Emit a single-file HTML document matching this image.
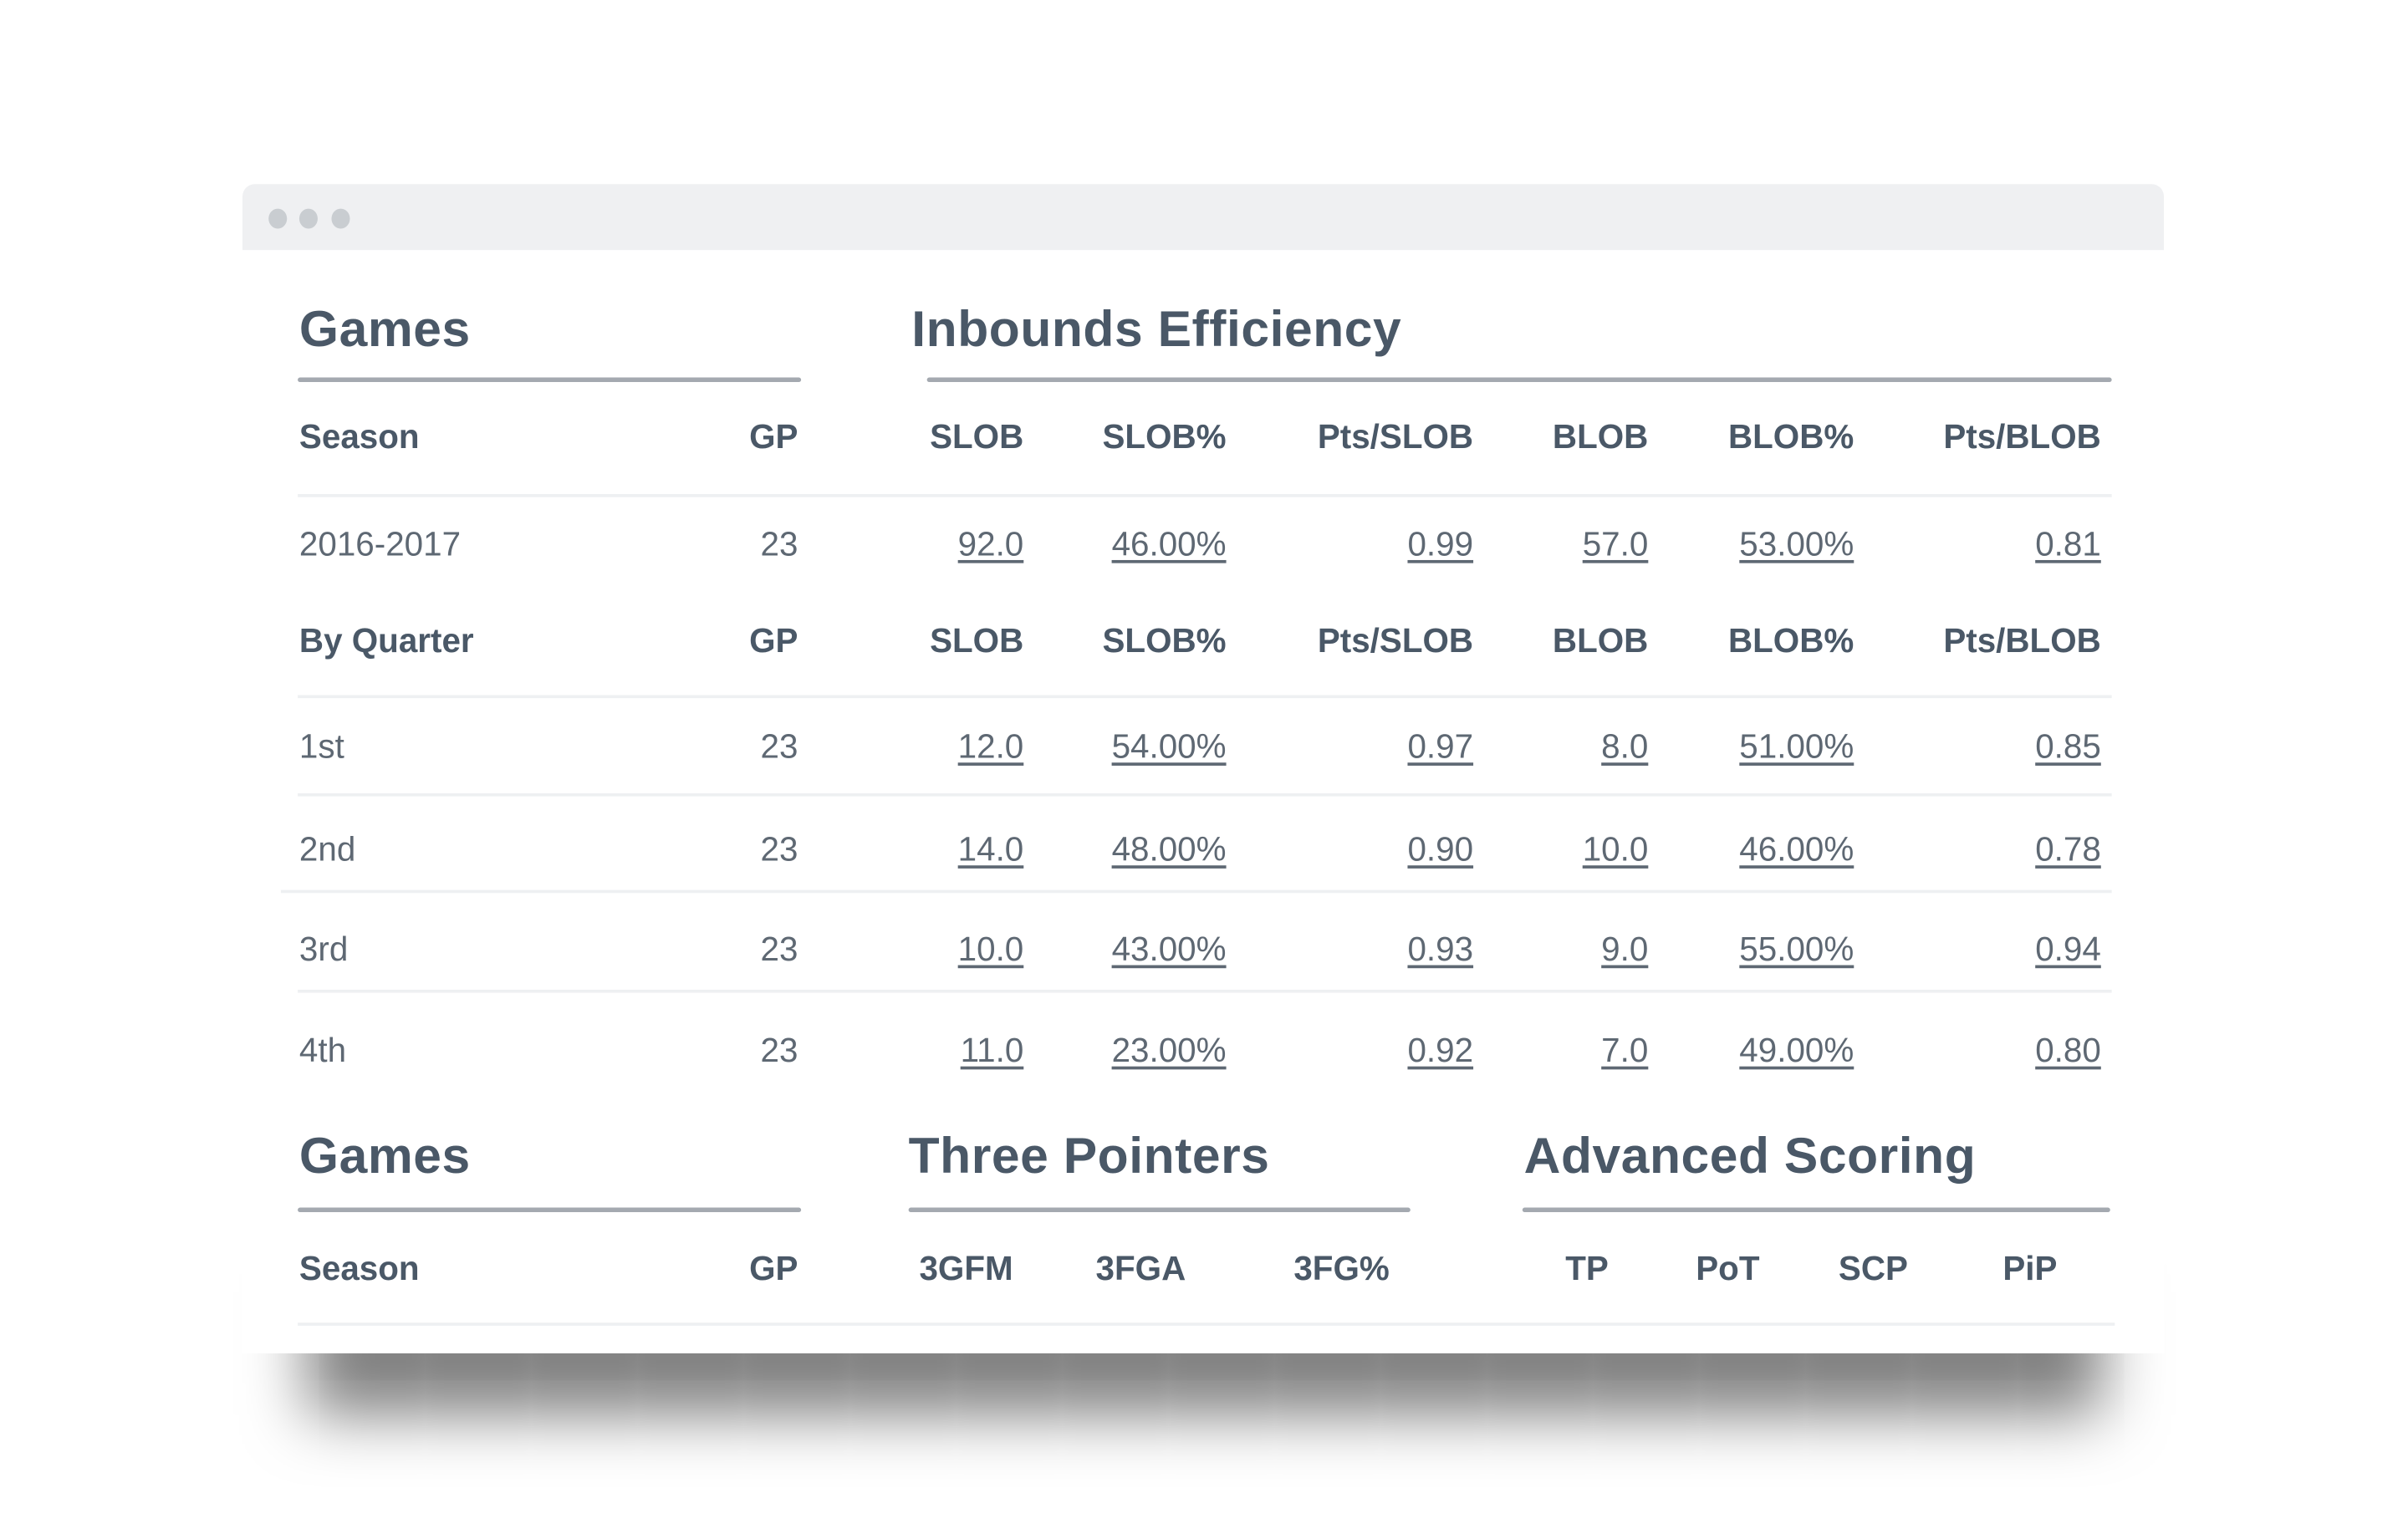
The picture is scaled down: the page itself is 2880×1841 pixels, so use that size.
<!DOCTYPE html>
<html><head><meta charset="utf-8"><style>
html,body{margin:0;padding:0;background:#fff;width:2880px;height:1840px;overflow:hidden}
#s{position:absolute;left:0;top:0;width:1569px;height:1003px;transform:scale(1.8355);transform-origin:0 0;font-family:"Liberation Sans",Arial,sans-serif}
.win{position:absolute;left:158px;top:120px;width:1252px;height:762px;background:#fff;border-radius:8px 8px 0 0}
.sh{position:absolute;left:200px;top:800px;width:1170px;height:80px;box-shadow:0 42px 40px rgba(0,0,0,.5);background:#fff}
.bar{position:absolute;left:158px;top:120px;width:1252px;height:43px;background:#eff0f2;border-radius:8px 8px 0 0}
.dot{position:absolute;top:136px;width:12px;height:13px;border-radius:50%;background:#c9cdd1}
.t{position:absolute;white-space:nowrap;line-height:1;transform:translateY(-50%)}
.h{font-weight:bold;font-size:33px;color:#4a5867;letter-spacing:0.3px}
.c{font-weight:bold;font-size:22px;color:#4a5867}
.d{font-size:22px;color:#5e6873}
.r{text-align:right}
.u{text-decoration:underline;text-underline-offset:3px}
.L{position:absolute;height:2px;background:#eef0f2}
.H{position:absolute;height:3px;background:#a4a9b0;border-radius:2px}
</style></head><body><div id="s">
<div class="sh"></div>
<div class="win"></div>
<div class="bar"></div>
<div class="dot" style="left:175px"></div><div class="dot" style="left:195px"></div><div class="dot" style="left:216px"></div>

<div class="t h" style="left:195px;top:214px">Games</div>
<div class="t h" style="left:594px;top:214px">Inbounds Efficiency</div>
<div class="H" style="left:194px;top:246px;width:328px"></div>
<div class="H" style="left:604px;top:246px;width:772px"></div>

<div id="rows"></div>

<div class="L" style="left:194px;top:322px;width:1182px"></div>
<div class="L" style="left:194px;top:453px;width:1182px"></div>
<div class="L" style="left:194px;top:517px;width:1182px"></div>
<div class="L" style="left:183px;top:580px;width:1193px"></div>
<div class="L" style="left:194px;top:645px;width:1182px"></div>

<div class="t h" style="left:195px;top:753px">Games</div>
<div class="t h" style="left:592px;top:753px">Three Pointers</div>
<div class="t h" style="left:993px;top:753px">Advanced Scoring</div>
<div class="H" style="left:194px;top:787px;width:328px"></div>
<div class="H" style="left:592px;top:787px;width:327px"></div>
<div class="H" style="left:992px;top:787px;width:383px"></div>
<div class="t c" style="left:195px;top:827px">Season</div>
<div class="t c r" style="right:1049px;top:827px">GP</div>
<div class="t c" style="left:599px;top:827px">3GFM</div>
<div class="t c" style="left:714px;top:827px">3FGA</div>
<div class="t c" style="left:843px;top:827px">3FG%</div>
<div class="t c" style="left:1020px;top:827px">TP</div>
<div class="t c" style="left:1105px;top:827px">PoT</div>
<div class="t c" style="left:1198px;top:827px">SCP</div>
<div class="t c" style="left:1305px;top:827px">PiP</div>
<div class="L" style="left:194px;top:862px;width:1184px"></div>

<script>
var R=[520,667,799,960,1074,1208,1369];
var rows=[
[285,'c',['Season','GP','SLOB','SLOB%','Pts/SLOB','BLOB','BLOB%','Pts/BLOB']],
[355,'d',['2016-2017','23','92.0','46.00%','0.99','57.0','53.00%','0.81']],
[418,'c',['By Quarter','GP','SLOB','SLOB%','Pts/SLOB','BLOB','BLOB%','Pts/BLOB']],
[487,'d',['1st','23','12.0','54.00%','0.97','8.0','51.00%','0.85']],
[554,'d',['2nd','23','14.0','48.00%','0.90','10.0','46.00%','0.78']],
[619,'d',['3rd','23','10.0','43.00%','0.93','9.0','55.00%','0.94']],
[685,'d',['4th','23','11.0','23.00%','0.92','7.0','49.00%','0.80']]];
var h='';
rows.forEach(function(r){
 h+='<div class="t '+r[1]+'" style="left:195px;top:'+r[0]+'px">'+r[2][0]+'</div>';
 for(var i=1;i<8;i++){
  h+='<div class="t '+r[1]+' r'+(r[1]=='d'&&i>1?' u':'')+'" style="right:'+(1569-R[i-1])+'px;top:'+r[0]+'px">'+r[2][i]+'</div>';
 }
});
document.getElementById('rows').innerHTML=h;
</script>
</div></body></html>
